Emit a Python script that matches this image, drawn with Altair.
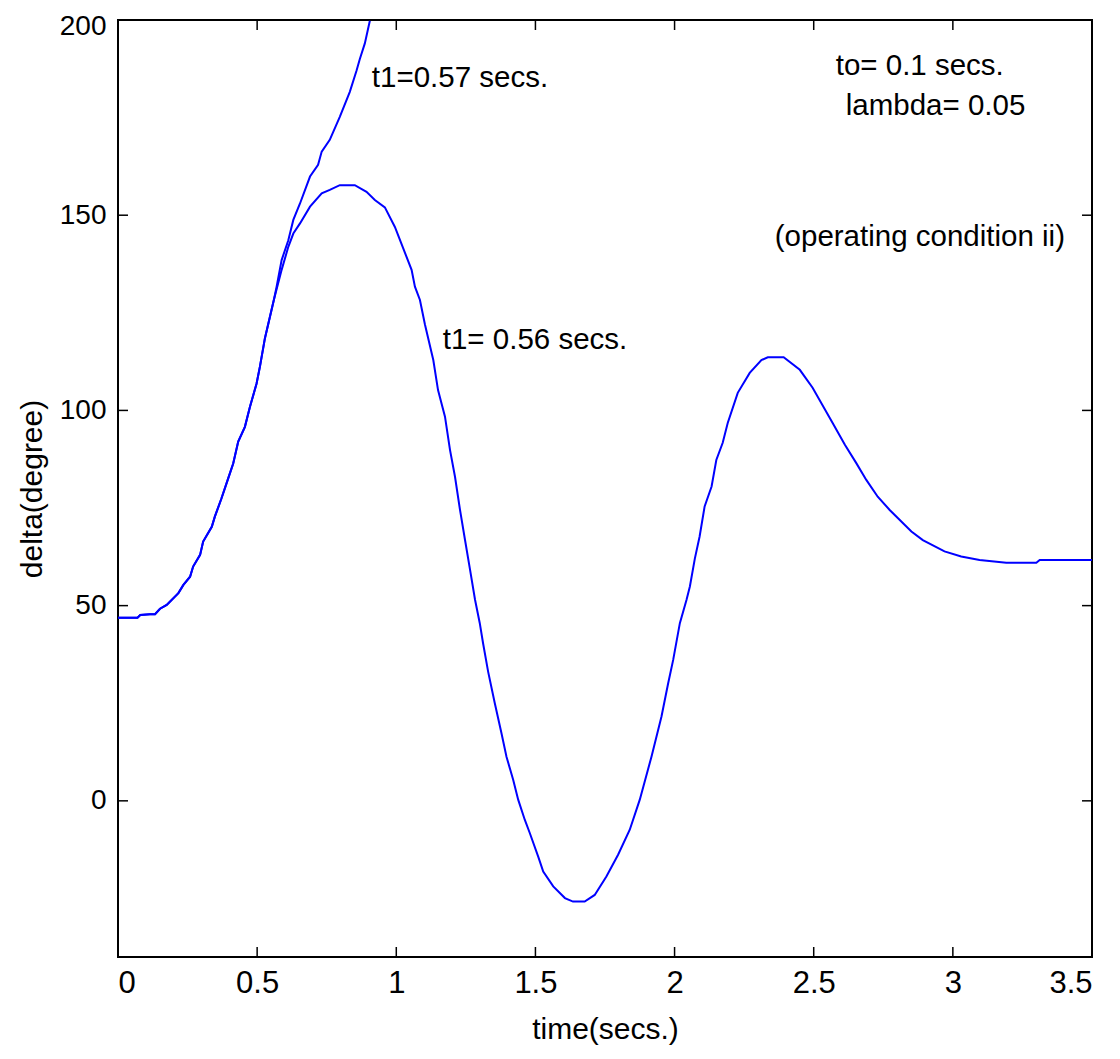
import altair as alt
import pandas as pd

# ---- data ----
# common part of both trajectories (until fault clearing)
t_common = [0.0, 0.07, 0.08, 0.115, 0.133, 0.151, 0.175, 0.217, 0.235, 0.259, 0.270, 0.295,
            0.306, 0.337, 0.348, 0.372, 0.396, 0.414, 0.432, 0.456, 0.474, 0.498, 0.510,
            0.528, 0.546, 0.560]
y_common = [46.9, 46.9, 47.6, 47.8, 47.8, 49.2, 50.2, 53.2, 55.3, 57.4, 60.0, 63.0,
            66.4, 70.2, 72.8, 77.5, 82.6, 86.4, 92.0, 95.8, 100.9, 106.9, 111.2,
            118.5, 124.0, 128.3]

# stable case, t1 = 0.56 s
t_stable = [0.588, 0.612, 0.630, 0.654, 0.690, 0.732, 0.761, 0.797, 0.851, 0.893,
            0.923, 0.959, 0.995, 1.025, 1.055, 1.067, 1.085, 1.103, 1.133, 1.150,
            1.175, 1.193, 1.211, 1.229, 1.247, 1.265, 1.283, 1.300, 1.312, 1.330,
            1.354, 1.378, 1.396, 1.420, 1.438, 1.462, 1.480, 1.510, 1.528, 1.564,
            1.606, 1.635, 1.677, 1.713, 1.755, 1.797, 1.839, 1.875, 1.917, 1.953,
            1.977, 1.995, 2.019, 2.043, 2.055, 2.073, 2.090, 2.108, 2.133, 2.150,
            2.173, 2.191, 2.227, 2.270, 2.312, 2.335, 2.392, 2.450, 2.496, 2.568,
            2.612, 2.653, 2.689, 2.730, 2.773, 2.851, 2.892, 2.970, 3.030, 3.096,
            3.192, 3.300, 3.312, 3.500]
y_stable = [136.0, 141.9, 145.3, 147.9, 152.2, 155.6, 156.5, 157.7, 157.7, 156.0,
            153.9, 152.0, 147.0, 141.5, 136.0, 131.7, 128.3, 122.0, 112.9, 105.2,
            98.4, 89.9, 83.0, 74.5, 66.8, 59.2, 51.5, 45.5, 40.3, 33.1,
            25.0, 17.3, 11.3, 5.4, 0.3, -4.9, -8.3, -14.3, -18.1, -21.9,
            -24.9, -25.8, -25.8, -24.1, -19.4, -13.8, -7.4, 0.3, 11.3, 21.6,
            30.1, 36.1, 45.5, 51.5, 54.9, 62.1, 67.7, 75.4, 80.5, 87.3,
            91.7, 96.8, 104.5, 109.6, 112.9, 113.6, 113.6, 110.4, 105.8, 96.8,
            91.2, 86.5, 82.2, 77.9, 74.5, 69.0, 66.8, 63.9, 62.6, 61.7,
            61.0, 61.0, 61.7, 61.7]

# unstable case, t1 = 0.57 s
t_unstable = [0.570, 0.588, 0.612, 0.630, 0.654, 0.690, 0.719, 0.732, 0.761, 0.797,
              0.833, 0.857, 0.869, 0.887, 0.905]
y_unstable = [131.7, 138.5, 143.6, 148.8, 153.0, 159.9, 162.9, 166.3, 169.3, 175.2,
              181.6, 187.0, 190.0, 194.0, 199.8]

x_ticks = [0, 0.5, 1, 1.5, 2, 2.5, 3, 3.5]
y_ticks = [0, 50, 100, 150, 200]

ann_text = ["t1=0.57 secs.", "t1= 0.56 secs.", "to= 0.1 secs.", "lambda= 0.05",
            "(operating condition ii)"]
ann_t = [0.912, 1.167, 2.579, 2.615, 2.36]
ann_y = [185.1, 118.0, 188.2, 178.0, 144.4]

# ---- build tables ----
rows = []
for t, y in zip(t_common + t_stable, y_common + y_stable):
    rows.append({"time": t, "delta": y, "case": "t1=0.56"})
for t, y in zip(t_common + t_unstable, y_common + y_unstable):
    rows.append({"time": t, "delta": y, "case": "t1=0.57"})
df = pd.DataFrame(rows)
xt = pd.DataFrame({"time": x_ticks})
yt = pd.DataFrame({"delta": y_ticks})
ann = pd.DataFrame({"text": ann_text, "time": ann_t, "delta": ann_y})

W, H = 974, 937
FONT_AX = "Liberation Sans Narrow, Arial Narrow, Liberation Sans, Arial"
FONT_TX = "Liberation Sans, Arial"

xs = alt.Scale(domain=[0, 3.5], nice=False, zero=False)
ys = alt.Scale(domain=[-40, 200], nice=False, zero=False)

xaxis = alt.Axis(values=x_ticks, labelExpr="'' + datum.value", ticks=False, tickSize=0,
                 domain=False, grid=False,
                 labelFont=FONT_AX, labelFontSize=31, labelColor="black", labelPadding=11,
                 title="time(secs.)", titleFont=FONT_AX, titleFontSize=30,
                 titleFontWeight="normal", titleColor="black", titlePadding=16)
yaxis = alt.Axis(values=y_ticks, labelExpr="'' + datum.value", ticks=False, tickSize=0,
                 domain=False, grid=False,
                 labelFont=FONT_AX, labelFontSize=28, labelColor="black", labelPadding=12,
                 labelFlush=True, labelFlushOffset=8,
                 title="delta(degree)", titleFont=FONT_AX, titleFontSize=30,
                 titleFontWeight="normal", titleColor="black", titlePadding=12)

lines = alt.Chart(df).mark_line(color="#0000ff", strokeWidth=2, clip=True).encode(
    x=alt.X("time:Q", scale=xs, axis=xaxis),
    y=alt.Y("delta:Q", scale=ys, axis=yaxis),
    detail="case:N",
    order="time:Q",
)

tick_style = dict(color="black", strokeWidth=1.5)
bottom_ticks = alt.Chart(xt).mark_rule(**tick_style).encode(
    x=alt.X("time:Q", scale=xs), y=alt.value(H), y2=alt.value(H - 10))
top_ticks = alt.Chart(xt).mark_rule(**tick_style).encode(
    x=alt.X("time:Q", scale=xs), y=alt.value(0), y2=alt.value(10))
left_ticks = alt.Chart(yt).mark_rule(**tick_style).encode(
    y=alt.Y("delta:Q", scale=ys), x=alt.value(0), x2=alt.value(10))
right_ticks = alt.Chart(yt).mark_rule(**tick_style).encode(
    y=alt.Y("delta:Q", scale=ys), x=alt.value(W), x2=alt.value(W - 10))

labels = alt.Chart(ann).mark_text(align="left", baseline="middle", font=FONT_TX,
                                  fontSize=29.5, color="black").encode(
    x=alt.X("time:Q", scale=xs), y=alt.Y("delta:Q", scale=ys), text="text:N")

chart = alt.layer(lines, bottom_ticks, top_ticks, left_ticks, right_ticks, labels).properties(
    width=W, height=H,
    autosize=alt.AutoSizeParams(type="none"),
    padding={"left": 110, "top": 12, "right": 20, "bottom": 96},
    background="white",
).configure_view(stroke="black", strokeWidth=2)

chart.save("out.html", embed_options={"renderer": "svg", "actions": False})
